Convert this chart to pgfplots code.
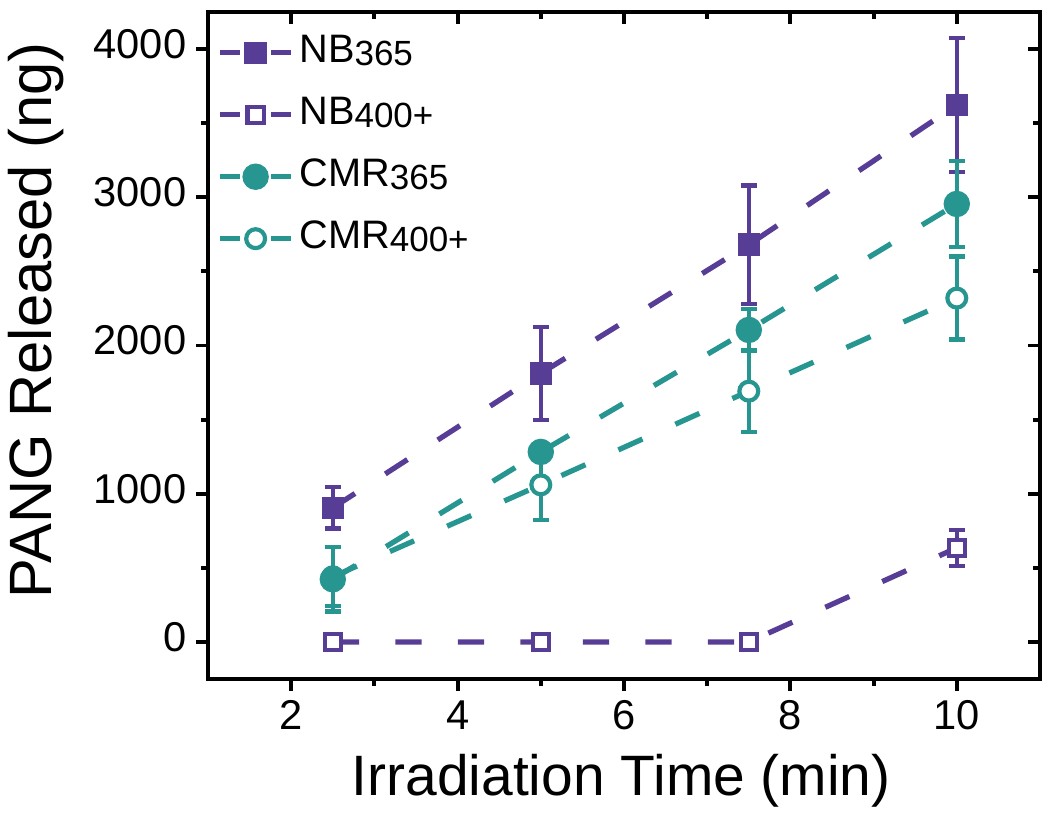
\documentclass[border=0pt]{standalone}
\usepackage{fontspec}
\setmainfont{Liberation Sans}
\usepackage{pgfplots}
\pgfplotsset{compat=1.18}
\definecolor{pur}{RGB}{88,61,150}
\definecolor{tea}{RGB}{39,150,145}
\newcommand{\sub}[1]{\raisebox{-1.2pt}{\fontsize{12.6}{12.6}\selectfont #1}}
\pgfplotsset{
  common/.style={
    width=299.52pt, height=240.12pt, scale only axis,
    at={(0pt,0pt)}, anchor=south west,
    xmin=1, xmax=11, ymin=-250, ymax=4250,
    xtick={2,4,6,8,10}, minor xtick={3,5,7,9},
    ytick={0,1000,2000,3000,4000}, minor ytick={500,1500,2500,3500},
    major tick length=4.3pt, minor tick length=2.4pt,
    tick style={black, line width=1.4pt},
    /pgf/number format/assume math mode=true,
    /pgf/number format/1000 sep={},
  },
  dsh/.style={line width=1.9pt, dash pattern=on 9.5pt off 13pt},
  eb/.style={error bars/.cd, y dir=both, y explicit,
    error bar style={line width=1.5pt, solid},
    error mark options={rotate=90, solid, line width=1.5pt, mark size=2.9pt}},
}
\begin{document}
\begin{tikzpicture}
\path[use as bounding box] (-74.88pt,-53.64pt) rectangle (303.12pt,244.44pt);
\begin{axis}[common,
  tick align=outside, xtick pos=left, ytick pos=left,
  axis line style={line width=1.4pt},
  ticklabel style={font=\fontsize{15}{15}\selectfont},
  yticklabel style={yshift=1.8pt},
  xlabel={Irradiation Time (min)},
  ylabel={PANG Released (ng)},
  xlabel style={at={([xshift=-1pt,yshift=-41.8pt]rel axis cs:0.5,0)}, anchor=base, inner sep=0pt, font=\fontsize{20.5}{20.5}\selectfont},
  ylabel style={at={([xshift=-56.2pt,yshift=9pt]rel axis cs:0,0.5)}, anchor=base, inner sep=0pt, font=\fontsize{21.5}{21.5}\selectfont},
  legend image code/.code={
    \draw[#1,solid,mark=none] (0pt,0pt)--(7.2pt,0pt) (18.4pt,0pt)--(25.6pt,0pt);
    \draw[#1,solid] plot coordinates {(12.8pt,0pt)};
  },
  legend cell align=left,
  legend style={at={(rel axis cs:0,1)}, anchor=north west, xshift=3.2pt, yshift=-8pt,
    draw=none, fill=none, inner sep=0pt, row sep=9.3pt, column sep=2pt,
    nodes={inner sep=0pt, text height=10pt, text depth=3pt},
    font=\fontsize{14.3}{14.3}\selectfont},
]
\addlegendimage{pur, line width=1.9pt, mark=square*, mark size=3.1pt, mark options={solid}}
\addlegendentry{NB\sub{365}}
\addlegendimage{pur, line width=1.9pt, mark=square*, mark size=2.9pt, mark options={solid, fill=white, line width=1.5pt}}
\addlegendentry{NB\sub{400+}}
\addlegendimage{tea, line width=1.9pt, mark=*, mark size=3.8pt, mark options={solid}}
\addlegendentry{CMR\sub{365}}
\addlegendimage{tea, line width=1.9pt, mark=*, mark size=3.4pt, mark options={solid, fill=white, line width=1.5pt}}
\addlegendentry{CMR\sub{400+}}

% NB 400+
\addplot[pur, dsh, mark=square*, mark size=2.9pt, mark options={solid, fill=white, line width=1.5pt}, forget plot, eb]
  table[x=x, y=y, y error=e] {
x y e
2.5 0 0
5 0 0
7.5 0 0
10 635 120
};
% CMR 400+
\addplot[tea, dsh, mark=*, mark size=3.4pt, mark options={solid, fill=white, line width=1.5pt}, forget plot, eb]
  table[x=x, y=y, y error=e] {
x y e
2.5 440 200
5 1060 235
7.5 1692 275
10 2320 280
};
% NB 365
\addplot[pur, dsh, mark=square*, mark size=3.1pt, mark options={solid}, forget plot, eb]
  table[x=x, y=y, y error=e] {
x y e
2.5 905 140
5 1812 315
7.5 2680 400
10 3623 450
};
% CMR 365
\addplot[tea, dsh, mark=*, mark size=3.8pt, mark options={solid}, forget plot, eb]
  table[x=x, y=y, y error=e] {
x y e
2.5 423 218
5 1282 50
7.5 2105 140
10 2955 290
};
\end{axis}
\begin{axis}[common,
  tick align=inside, xtick pos=right, ytick pos=right,
  xticklabels={}, yticklabels={},
  axis line style={draw=none},
]
\end{axis}
\end{tikzpicture}
\end{document}
